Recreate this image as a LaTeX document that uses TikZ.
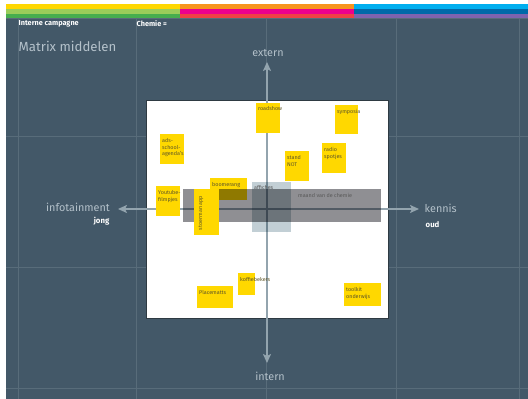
\documentclass[tikz,border=0pt]{standalone}
\usepackage{fontspec}
\setmainfont{Fira Sans}
\usetikzlibrary{arrows.meta}
\definecolor{bg}{HTML}{435868}
\definecolor{gridc}{HTML}{586C7A}
\definecolor{s1a}{HTML}{FFD700}
\definecolor{s1b}{HTML}{9ACD5A}
\definecolor{s1c}{HTML}{46AE4E}
\definecolor{s2a}{HTML}{F7941D}
\definecolor{s2b}{HTML}{EC008C}
\definecolor{s2c}{HTML}{EF4045}
\definecolor{s3a}{HTML}{00AEEF}
\definecolor{s3b}{HTML}{0069A8}
\definecolor{s3c}{HTML}{7E63AE}
\definecolor{lbl}{HTML}{B4C1CA}
\definecolor{axisc}{HTML}{93A4AE}
\definecolor{stky}{HTML}{FFD800}
\definecolor{stxtc}{HTML}{5E5628}
\definecolor{bandc}{HTML}{8F8F93}
\definecolor{affc}{HTML}{C2CFD5}
\definecolor{boxline}{HTML}{2E3A42}
\tikzset{
  gridline/.style={draw=gridc, line width=0.7pt},
  sticky/.style={fill=stky},
  stxt/.style={font=\fontsize{5.4}{6.8}\selectfont, text=stxtc, inner sep=0pt, anchor=north west, align=left},
  dtxt/.style={font=\fontsize{5.4}{6.8}\selectfont, text=black!65, inner sep=0pt, anchor=north west},
  axislabel/.style={font=\fontsize{10.8}{12}\selectfont, text=lbl, inner sep=0pt},
  boldlabel/.style={font=\fontsize{7.8}{9}\selectfont\bfseries, text=white, inner sep=0pt},
  headtxt/.style={font=\fontsize{7.3}{8}\selectfont\bfseries, text=white, inner sep=0pt, anchor=west},
  axisline/.style={draw=axisc, line width=2.6pt, {Stealth[length=9pt,width=8pt,inset=2pt]}-{Stealth[length=9pt,width=8pt,inset=2pt]}}
}
\begin{document}
\begin{tikzpicture}[x=1pt,y=-1pt]
\useasboundingbox (0,0) rectangle (528,399);
\fill[white] (0,0) rectangle (528,399);
\fill[bg] (6,17) rectangle (528,399);
% stripes
\fill[s1a] (6,4) rectangle (180,8.5);
\fill[s1b] (6,8.5) rectangle (180,13.5);
\fill[s1c] (6,13.5) rectangle (180,17.5);
\fill[s2a] (180,4) rectangle (354,8.5);
\fill[s2b] (180,8.5) rectangle (354,13.5);
\fill[s2c] (180,13.5) rectangle (354,17.5);
\fill[s3a] (354,4) rectangle (528,8.5);
\fill[s3b] (354,8.5) rectangle (528,13.5);
\fill[s3c] (354,13.5) rectangle (528,17.5);
% grid
\foreach \gx in {18,136,266,396,519} \draw[gridline] (\gx,17.5) -- (\gx,399);
\foreach \gy in {18.5,136,267,388} \draw[gridline] (6,\gy) -- (528,\gy);
% header texts
\node[headtxt] (hd1) at (18.5,24) {Interne campagne};
\node[headtxt] (hd2) at (136.5,24) {Chemie =};
\node[font=\fontsize{13.2}{15}\selectfont, text=lbl, inner sep=0pt, anchor=west] (title) at (18.5,46) {Matrix middelen};
% white box
\fill[white, draw=boxline, line width=0.9pt] (146,100) rectangle (388,318);
% axes
\coordinate (ytop) at (267,62);
\coordinate (ybot) at (267,363);
\coordinate (xleft) at (118,209);
\coordinate (xright) at (419,209);
\draw[axisline] (ybot) -- (ytop);
\draw[axisline] (xleft) -- (xright);
% axis labels
\node[axislabel] (extern) at (268,53) {extern};
\node[axislabel] (intern) at (270,376) {intern};
\node[axislabel, anchor=east] (info) at (110,207.5) {infotainment};
\node[boldlabel, anchor=east] (jong) at (109.5,221.5) {jong};
\node[axislabel, anchor=west] (kennis) at (424.5,208) {kennis};
\node[boldlabel, anchor=west] (oud) at (425.5,224.5) {oud};
% boomerang sticky (under band)
\fill[sticky] (210,178) rectangle (247,200);
\node[stxt] (boom) at (212,182.5) {boomerang};
% band and affiches, multiplied
\begin{scope}[blend mode=multiply]
\fill[bandc] (183,189) rectangle (381,222);
\fill[affc] (252,182) rectangle (291,232);
\end{scope}
\node[dtxt] (maand) at (298,193.5) {maand van de chemie};
\node[dtxt] (aff) at (254,185.5) {affiches};
% stickies
\fill[sticky] (256,103) rectangle (280,133);
\node[stxt] (road) at (258,106.5) {roadshow};
\fill[sticky] (335,105) rectangle (358,134);
\node[stxt] (symp) at (337,109) {symposia};
\fill[sticky] (160,134) rectangle (184,164);
\node[stxt] (ads) at (162,138) {ads-\\school-\\agenda's};
\fill[sticky] (285,151) rectangle (309,181);
\node[stxt] (stand) at (287,155) {stand\\NOT};
\fill[sticky] (322,143) rectangle (346,173);
\node[stxt] (radio) at (324,147) {radio\\spotjes};
\fill[sticky] (156,186) rectangle (180,216);
\node[stxt] (yt) at (158,190) {Youtube-\\filmpjes};
\fill[sticky] (194,189) rectangle (219,235);
\node[stxt, anchor=center, rotate=90] (stoer) at (201,213) {stoerman app};
\fill[sticky] (238,273) rectangle (255,295);
\node[stxt] (koffie) at (240,277) {koffiebekers};
\fill[sticky] (197,286) rectangle (233,308);
\node[stxt] (place) at (199,290) {Placematts};
\fill[sticky] (344,283) rectangle (381,306);
\node[stxt] (toolkit) at (346,287) {toolkit\\onderwijs};
\end{tikzpicture}
\end{document}
